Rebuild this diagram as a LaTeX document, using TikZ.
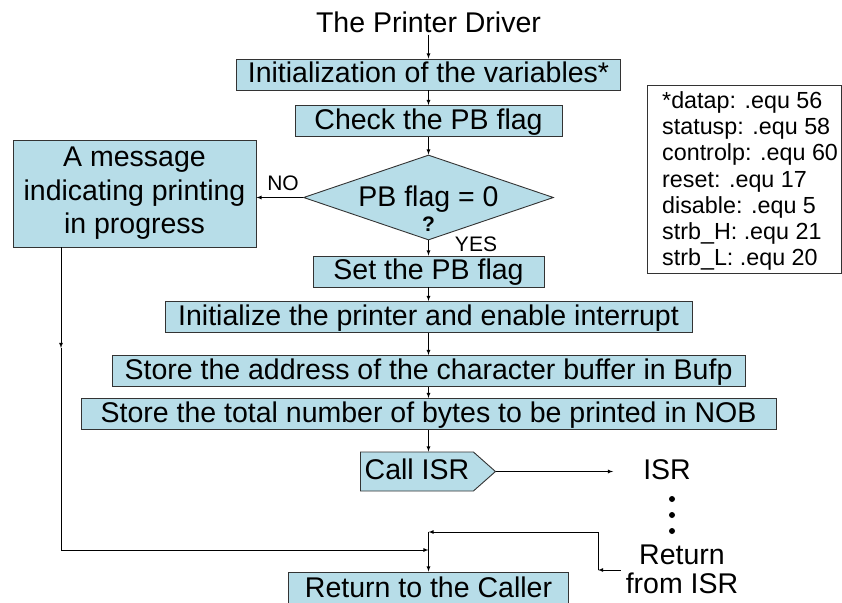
\documentclass[tikz,border=0pt]{standalone}
\usepackage{fontspec}
\setmainfont{Liberation Sans}
\usetikzlibrary{shapes.geometric,shapes.symbols}
\definecolor{boxblue}{RGB}{183,221,232}

\begin{document}
\begin{tikzpicture}[x=1pt, y=-1pt,
  box/.style={draw=black!80, fill=boxblue, line width=0.9pt, inner sep=0pt, font=\fontsize{28.5pt}{33.5pt}\selectfont},
  one/.style={box, minimum height=31pt, text height=21pt, text depth=5pt},
  arr/.style={-latex, line width=0.8pt},
  lbl/.style={inner sep=0pt, font=\fontsize{21pt}{24pt}\selectfont},
  big/.style={inner sep=0pt, font=\fontsize{28.5pt}{29pt}\selectfont},
  dot/.style={circle, fill, inner sep=0pt, minimum size=6pt}
]
\useasboundingbox (0,0) rectangle (842,602);
\node[big, inner sep=2pt] (title) at (428.5,22) {The Printer Driver};
\node[one, minimum width=384pt] (init) at (428.5,74.5) {Initialization of the variables*};
\node[one, minimum width=267pt] (chk) at (428.5,121) {Check the PB flag};
\node[box, diamond, minimum width=250pt, minimum height=85pt] (dec) at (428.5,197.5) {};
\node[big] (dectxt) at (428.5,199) {PB flag = 0};
\node[lbl, font=\bfseries\fontsize{21pt}{24pt}\selectfont] (qm) at (428.5,224.5) {?};
\node[box, minimum width=243pt, minimum height=107pt, align=center] (msg) at (134.5,193.5) {A message\\indicating printing\\in progress};
\node[lbl] (no) at (283,183) {NO};
\node[lbl] (yes) at (476,244.5) {YES};
\node[one, minimum width=231pt] (setf) at (428.5,271.5) {Set the PB flag};
\node[one, minimum width=527pt] (prn) at (428.5,317) {Initialize the printer and enable interrupt};
\node[one, minimum width=633pt] (buf) at (428.5,371) {Store the address of the character buffer in Bufp};
\node[one, minimum width=695pt] (nob) at (428.5,414) {Store the total number of bytes to be printed in NOB};
\node[one, signal, signal to=east, signal pointer angle=83, minimum width=135pt, minimum height=39pt, anchor=west] (call) at (360,471.5) {Call ISR};
\node[big] (isr) at (667,470) {ISR};
\node[dot] (d1) at (672,499) {};
\node[dot] (d2) at (672,515) {};
\node[dot] (d3) at (672,531) {};
\node[big, align=center, inner xsep=5pt] (risr) at (682,569) {Return\\from ISR};
\node[one, minimum width=280pt, minimum height=34pt] (ret) at (428.5,589) {Return to the Caller};
% variables box
\node[draw=black!80, line width=0.9pt, minimum width=194pt, minimum height=188pt, inner sep=0pt, anchor=north west] (vars) at (647,85) {};
\node[anchor=west, align=left, inner sep=0pt, font=\fontsize{23.3pt}{26.2pt}\selectfont] (varstxt) at (662,181) {*datap: .equ 56\\statusp: .equ 58\\controlp: .equ 60\\reset: .equ 17\\disable: .equ 5\\strb\_H: .equ 21\\strb\_L: .equ 20};
\coordinate (lm) at (61,348);
\coordinate (lj) at (428.5,550);
\coordinate (cj) at (428.5,532);
\coordinate (rj) at (598,570);
\draw[arr] (title) -- (init);
\draw[arr] (init) -- (chk);
\draw[arr] (chk) -- (dec);
\draw[arr] (dec.west) -- (dec.west -| msg.east);
\draw[arr] (dec) -- (setf);
\draw[arr] (setf) -- (prn);
\draw[arr] (prn) -- (buf);
\draw[arr] (buf) -- (nob);
\draw[arr] (nob.south) -- (nob.south |- call.north);
\draw[arr, shorten >=30pt] (call.east) -- (call.east -| isr.west);
\draw[arr] (msg.south -| lm) -- (lm);
\draw[arr] (lm) |- (lj);
\draw[arr] (risr.west |- rj) -- (rj);
\draw[arr] (rj) |- (cj);
\draw[arr] (cj) -- (ret);
\end{tikzpicture}
\end{document}
